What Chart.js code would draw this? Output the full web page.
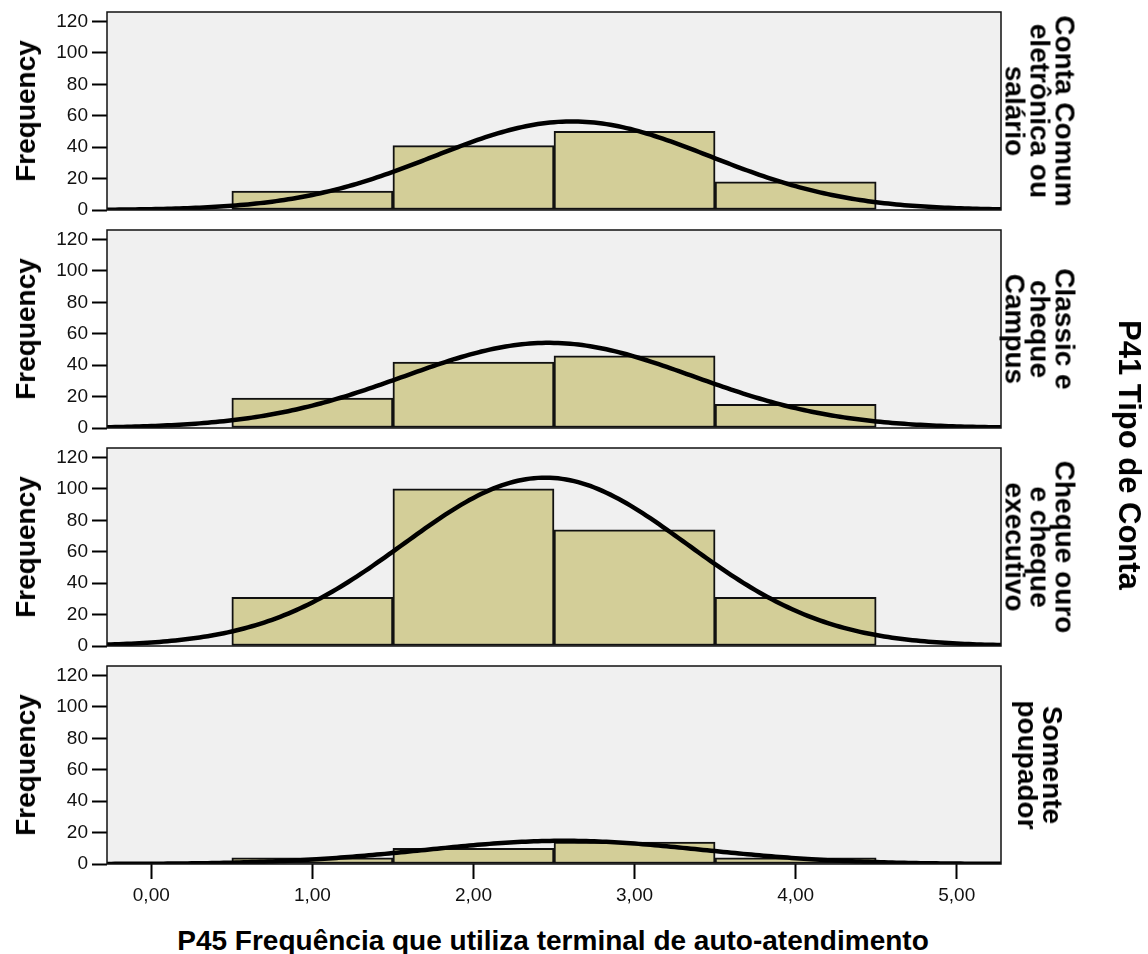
<!DOCTYPE html>
<html>
<head>
<meta charset="utf-8">
<script src="https://cdn.jsdelivr.net/npm/chart.js@4"></script>
<style>
  body { margin: 0; background: #fff; }
  #wrap { position: relative; width: 1148px; height: 954px; overflow: hidden; font-family: "Liberation Sans", Arial, sans-serif; }
  .panel { position: absolute; left: 0; }
  .lbl { position: absolute; white-space: nowrap; text-align: center; font-weight: bold; color: #000; }
</style>
</head>
<body>
<div id="wrap"></div>
<script>
// bins of the histogram (centres, width 1)
const binCenters = [1, 2, 3, 4];
// frequencies per account type
const countsConta = [12, 41, 50, 18];
const countsClassic = [19, 42, 46, 15];
const countsOuro = [31, 100, 74, 31];
const countsPoupador = [4, 10, 14, 4];
const yTicks = [0, 20, 40, 60, 80, 100, 120];
const xTicks = [0, 1, 2, 3, 4, 5];
const panelLabels = [
  ["Conta Comum", "eletrônica ou", "salário"],
  ["Classic e", "cheque", "Campus"],
  ["Cheque ouro", "e cheque", "executivo"],
  ["Somente", "poupador"]
];
const yAxisTitle = "Frequency";
const xAxisTitle = "P45 Frequência que utiliza terminal de auto-atendimento";
const groupTitle = "P41 Tipo de Conta";

const allCounts = [countsConta, countsClassic, countsOuro, countsPoupador];
const X_MIN = -0.275, X_MAX = 5.275, Y_MAX = 126;
const panelTops = [12, 230, 448, 666];
const panelH = 198;

// normal curve fitted to the binned counts
function normalCurve(counts) {
  let n = 0, s = 0, s2 = 0;
  for (let i = 0; i < counts.length; i++) {
    n += counts[i];
    s += counts[i] * binCenters[i];
    s2 += counts[i] * binCenters[i] * binCenters[i];
  }
  const mean = s / n;
  const sd = Math.sqrt(s2 / n - mean * mean);
  const pts = [];
  for (let x = X_MIN - 0.05; x <= X_MAX + 0.05; x += 0.025) {
    const z = (x - mean) / sd;
    pts.push({ x: x, y: n * Math.exp(-0.5 * z * z) / (sd * Math.sqrt(2 * Math.PI)) });
  }
  return pts;
}

const panelFrame = {
  id: 'panelFrame',
  beforeDraw(chart) {
    const a = chart.chartArea, ctx = chart.ctx;
    ctx.save();
    ctx.fillStyle = '#f0f0f0';
    ctx.fillRect(a.left, a.top, a.right - a.left, a.bottom - a.top);
    ctx.restore();
  },
  afterDraw(chart) {
    const a = chart.chartArea, ctx = chart.ctx;
    ctx.save();
    ctx.strokeStyle = '#111';
    ctx.lineWidth = 1.5;
    ctx.strokeRect(a.left, a.top, a.right - a.left, a.bottom - a.top);
    ctx.restore();
  }
};

const wrap = document.getElementById('wrap');

function addLabel(text, cx, cy, size, rot, lineH) {
  const d = document.createElement('div');
  d.className = 'lbl';
  d.style.fontSize = size + 'px';
  d.style.lineHeight = lineH + 'px';
  d.style.left = cx + 'px';
  d.style.top = cy + 'px';
  d.style.transform = 'translate(-50%,-50%) rotate(' + rot + 'deg)';
  d.innerHTML = text;
  wrap.appendChild(d);
}

function noPad(s) {
  s.paddingTop = 0; s.paddingBottom = 0; s.paddingLeft = 0; s.paddingRight = 0;
}

for (let p = 0; p < 4; p++) {
  const last = p === 3;
  const canvas = document.createElement('canvas');
  const h = 12 + panelH + (last ? 45 : 12);
  canvas.width = 1148;
  canvas.height = h;
  canvas.className = 'panel';
  canvas.style.top = (panelTops[p] - 12) + 'px';
  wrap.appendChild(canvas);

  new Chart(canvas, {
    type: 'bar',
    data: {
      datasets: [{
        type: 'line',
        data: normalCurve(allCounts[p]),
        borderColor: '#000',
        borderWidth: 4.5,
        pointRadius: 0,
        tension: 0,
        order: 0
      }, {
        type: 'bar',
        data: binCenters.map((c, i) => ({ x: c, y: allCounts[p][i] })),
        backgroundColor: '#d3ce98',
        borderColor: '#111',
        borderWidth: 2,
        borderSkipped: false,
        barPercentage: 1,
        categoryPercentage: 1,
        order: 1
      }]
    },
    options: {
      responsive: false,
      animation: false,
      layout: { padding: { left: 0, right: 147, top: 12, bottom: last ? 0 : 12 } },
      plugins: { legend: { display: false }, tooltip: { enabled: false } },
      scales: {
        x: {
          type: 'linear',
          min: X_MIN,
          max: X_MAX,
          offset: false,
          display: last,
          afterBuildTicks: (s) => { s.ticks = xTicks.map(v => ({ value: v })); },
          afterFit: (s) => { s.height = last ? 45 : 0; noPad(s); },
          grid: { offset: false, drawOnChartArea: false, drawTicks: true, tickLength: 15, tickWidth: 2, tickColor: '#000' },
          border: { display: false },
          ticks: {
            color: '#111',
            padding: 5,
            maxRotation: 0,
            autoSkip: false,
            font: { family: '"Liberation Sans", Arial', size: 19 },
            callback: (v) => v.toFixed(2).replace('.', ',')
          }
        },
        y: {
          min: 0,
          max: Y_MAX,
          afterBuildTicks: (s) => { s.ticks = yTicks.map(v => ({ value: v })); },
          afterFit: (s) => { s.width = 107; noPad(s); },
          grid: { drawOnChartArea: false, drawTicks: true, tickLength: 15, tickWidth: 2, tickColor: '#000' },
          border: { display: false },
          ticks: {
            color: '#111',
            padding: 4,
            autoSkip: false,
            font: { family: '"Liberation Sans", Arial', size: 19 }
          }
        }
      }
    },
    plugins: [panelFrame]
  });

  const cy = panelTops[p] + panelH / 2;
  addLabel(yAxisTitle, 26, cy, 28, -90, 32);
  addLabel(panelLabels[p].join('<br>'), 1040, cy, 28, 90, 25);
}

addLabel(xAxisTitle, 553, 941, 28, 0, 32);
addLabel(groupTitle, 1129, 455, 31, 90, 34);
</script>
</body>
</html>
